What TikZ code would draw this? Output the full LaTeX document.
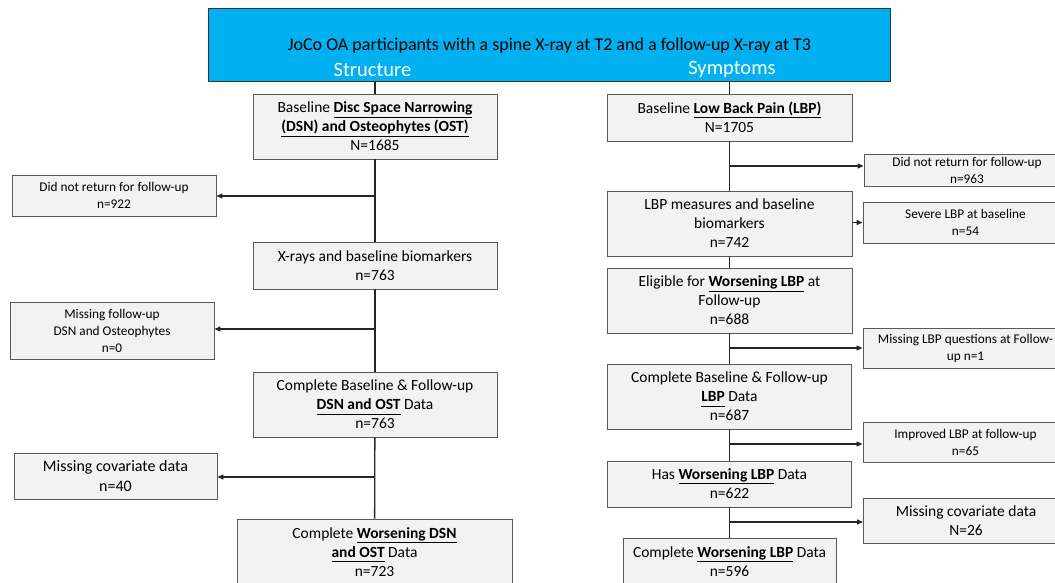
\documentclass[tikz,border=0pt]{standalone}
\usepackage{fontspec}
\setmainfont{Carlito}
\usetikzlibrary{arrows.meta}
\definecolor{headblue}{HTML}{00B0F0}
\definecolor{boxgray}{HTML}{F2F2F2}
\definecolor{edgegray}{HTML}{595959}
\newcommand{\keyterm}[1]{\underline{\smash{\textbf{#1}}\vphantom{p}}}

\begin{document}
\begin{tikzpicture}[x=1pt, y=-1pt,
    stagebox/.style={rectangle, draw=edgegray, line width=0.9pt, fill=boxgray, align=center, inner sep=0pt, font=\fontsize{15.5}{19}\selectfont},
    dropbox/.style={stagebox, font=\fontsize{13.3}{17}\selectfont},
    flow/.style={line width=1.3pt, draw=black!85},
    drop/.style={flow, -{Triangle[length=6pt,width=5pt]}}
]
    \clip (0,0) rectangle (1055,582);

    % Header
    \node[rectangle, draw=black!80, line width=1pt, fill=headblue, minimum width=682pt, minimum height=73pt, inner sep=0pt] (head) at (549,44.5) {};
    \node[font=\fontsize{18}{20}\selectfont] (title) at (549.5,46) {JoCo OA participants with a spine X-ray at T2 and a follow-up X-ray at T3};
    \node[font=\fontsize{20.5}{22}\selectfont, text=white] (struct) at (372.5,70) {Structure};
    \node[font=\fontsize{20.5}{22}\selectfont, text=white] (sympt) at (732,69) {Symptoms};

    % Structure column
    \node[stagebox, minimum width=244pt, minimum height=65pt] (b1) at (375,126.5) {Baseline \keyterm{Disc Space Narrowing}\\\keyterm{(DSN) and Osteophytes (OST)}\\N=1685};
    \node[stagebox, minimum width=244pt, minimum height=47pt] (b2) at (375,265.5) {X-rays and baseline biomarkers\\n=763};
    \node[stagebox, minimum width=244pt, minimum height=65pt] (b3) at (375,404.5) {Complete Baseline \& Follow-up\\\keyterm{DSN and OST} Data\\n=763};
    \node[stagebox, minimum width=275pt, minimum height=66pt] (b4) at (374.5,552) {Complete \keyterm{Worsening DSN}\\\keyterm{and OST} Data\\n=723};

    \node[dropbox, minimum width=204pt, minimum height=41pt] (d1) at (114,195.5) {Did not return for follow-up\\n=922};
    \node[dropbox, minimum width=204pt, minimum height=57pt] (d2) at (112,330.5) {Missing follow-up\\DSN and Osteophytes\\n=0};
    \node[stagebox, font=\fontsize{16}{20}\selectfont, minimum width=203pt, minimum height=46pt] (d3) at (115.5,476) {Missing covariate data\\n=40};

    % Symptoms column
    \node[stagebox, minimum width=245pt, minimum height=47pt] (r1) at (729.5,117.5) {Baseline \keyterm{Low Back Pain (LBP)}\\N=1705};
    \node[stagebox, minimum width=245pt, minimum height=65pt] (r2) at (729.5,223.5) {LBP measures and baseline\\biomarkers\\n=742};
    \node[stagebox, minimum width=245pt, minimum height=65pt] (r3) at (729.5,300.5) {Eligible for \keyterm{Worsening LBP} at\\Follow-up\\n=688};
    \node[stagebox, minimum width=244pt, minimum height=65pt] (r4) at (729.5,396.5) {Complete Baseline \& Follow-up\\\keyterm{LBP} Data\\n=687};
    \node[stagebox, minimum width=244pt, minimum height=46pt] (r5) at (729.5,484) {Has \keyterm{Worsening LBP} Data\\n=622};
    \node[stagebox, minimum width=213pt, minimum height=47pt] (r6) at (729.5,561.5) {Complete \keyterm{Worsening LBP} Data\\n=596};

    \node[dropbox, minimum width=206pt, minimum height=32pt] (s1) at (967,170) {Did not return for follow-up\\n=963};
    \node[dropbox, minimum width=205pt, minimum height=41pt] (s2) at (965.5,222.5) {Severe LBP at baseline\\n=54};
    \node[dropbox, minimum width=205pt, minimum height=40pt] (s3) at (965.5,348) {Missing LBP questions at Follow-\\up n=1};
    \node[dropbox, minimum width=205pt, minimum height=40pt] (s4) at (965.5,442) {Improved LBP at follow-up\\n=65};
    \node[stagebox, minimum width=205pt, minimum height=45pt] (s5) at (966,520.5) {Missing covariate data\\N=26};

    % Junctions
    \coordinate (j1) at (375,196);
    \coordinate (j2) at (375,329);
    \coordinate (j3) at (375,477);
    \coordinate (k1) at (729.5,166);
    \coordinate (k3) at (729.5,348);
    \coordinate (k4) at (729.5,444);
    \coordinate (k5) at (729.5,522);

    % Structure flow
    \draw[flow] (b1.north |- head.south) -- (b1.north);
    \draw[flow] (b1) -- (b2);
    \draw[flow] (b2) -- (b3);
    \draw[flow] (b3) -- (b4);
    \draw[drop] (j1) -- (j1 -| d1.east);
    \draw[drop] (j2) -- (j2 -| d2.east);
    \draw[drop] (j3) -- (j3 -| d3.east);

    % Symptoms flow
    \draw[flow] (r1.north |- head.south) -- (r1.north);
    \draw[flow] (r1) -- (r2);
    \draw[flow] (r2) -- (r3);
    \draw[flow] (r3) -- (r4);
    \draw[flow] (r4) -- (r5);
    \draw[flow] (r5) -- (r6);
    \draw[drop] (k1) -- (k1 -| s1.west);
    \draw[drop] (r2.east |- s2.west) -- (s2.west);
    \draw[drop] (k3) -- (k3 -| s3.west);
    \draw[drop] (k4) -- (k4 -| s4.west);
    \draw[drop] (k5) -- (k5 -| s5.west);

\end{tikzpicture}
\end{document}
